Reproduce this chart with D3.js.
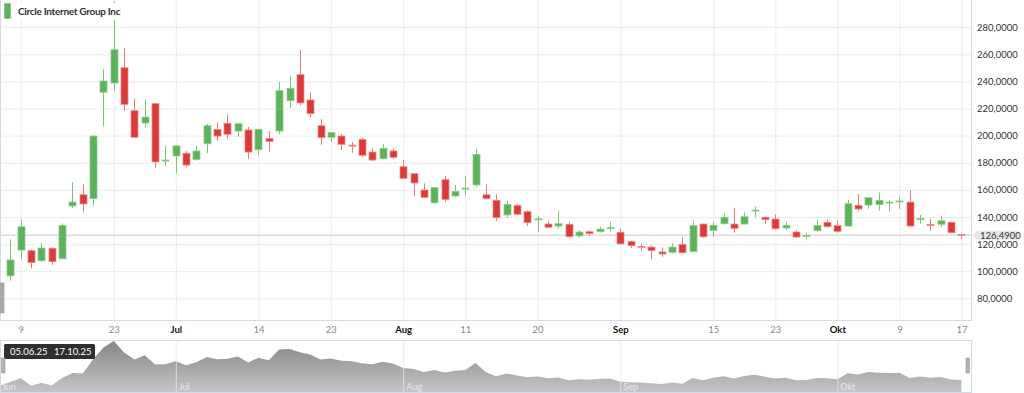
<!DOCTYPE html>
<html>
<head>
<meta charset="utf-8">
<script src="https://cdn.jsdelivr.net/npm/d3@7"></script>
<style>
  body { margin: 0; background: #fff; font-family: Lato, sans-serif; }
  .grid line { stroke: #ececec; }
  .grid path { display: none; }
</style>
</head>
<body>
<script>
"use strict"

// series name shown in the legend
const title = "Circle Internet Group Inc"

// trading days (Jun 5 only peeks in at the left edge)
const dates = [
  "2025-06-05", "2025-06-06", "2025-06-09", "2025-06-10", "2025-06-11", "2025-06-12", "2025-06-13",
  "2025-06-16", "2025-06-17", "2025-06-18", "2025-06-20", "2025-06-23", "2025-06-24", "2025-06-25",
  "2025-06-26", "2025-06-27", "2025-06-30", "2025-07-01", "2025-07-02", "2025-07-03", "2025-07-07",
  "2025-07-08", "2025-07-09", "2025-07-10", "2025-07-11", "2025-07-14", "2025-07-15", "2025-07-16",
  "2025-07-17", "2025-07-18", "2025-07-21", "2025-07-22", "2025-07-23", "2025-07-24", "2025-07-25",
  "2025-07-28", "2025-07-29", "2025-07-30", "2025-07-31", "2025-08-01", "2025-08-04", "2025-08-05",
  "2025-08-06", "2025-08-07", "2025-08-08", "2025-08-11", "2025-08-12", "2025-08-13", "2025-08-14",
  "2025-08-15", "2025-08-18", "2025-08-19", "2025-08-20", "2025-08-21", "2025-08-22", "2025-08-25",
  "2025-08-26", "2025-08-27", "2025-08-28", "2025-08-29", "2025-09-02", "2025-09-03", "2025-09-04",
  "2025-09-05", "2025-09-08", "2025-09-09", "2025-09-10", "2025-09-11", "2025-09-12", "2025-09-15",
  "2025-09-16", "2025-09-17", "2025-09-18", "2025-09-19", "2025-09-22", "2025-09-23", "2025-09-24",
  "2025-09-25", "2025-09-26", "2025-09-29", "2025-09-30", "2025-10-01", "2025-10-02", "2025-10-03",
  "2025-10-06", "2025-10-07", "2025-10-08", "2025-10-09", "2025-10-10", "2025-10-13", "2025-10-14",
  "2025-10-15", "2025-10-16", "2025-10-17",
]

const open = [
  69.2, 96.5, 115.6, 115.1, 107.7, 116.9, 109.2,
  148.1, 156.4, 153.5, 232, 238.8, 250.1, 218.4,
  209.3, 223.6, 181.5, 185, 187, 182.5, 194,
  204.6, 209.1, 203.4, 204.2, 189.6, 198, 203.4,
  225.8, 245, 226.3, 207.3, 198.8, 199.7, 193,
  197.2, 187.9, 183, 188.7, 177.1, 171.9, 159.9,
  150.5, 167.5, 155.5, 160.8, 163.6, 156.4, 152.3,
  141.5, 148.6, 143.9, 138, 134.8, 133.3, 134.6,
  126, 129.1, 129.1, 131.6, 128.7, 122, 118.3,
  117.8, 114.2, 113.9, 119.8, 114.4, 134.8, 130.2,
  135, 134.8, 134.8, 144.6, 139.8, 138.5, 131.9,
  128.9, 126, 129.9, 136.1, 133.6, 133.3, 148.6,
  148.8, 149.1, 150.6, 151.4, 151, 138.3, 134.4,
  134.6, 136.1, 127,
]

const high = [
  91.3, 123.5, 138.5, 116, 120.6, 117.6, 135.3,
  165.6, 164.5, 200.5, 249.2, 299, 264.7, 227.3,
  226.8, 224, 192.4, 193, 188.7, 192.4, 208.6,
  209.8, 215.7, 209.3, 206.6, 205, 203.4, 239.6,
  244, 263.2, 232, 212.3, 202.5, 201.2, 195.5,
  198.5, 190.9, 193.8, 190.4, 182, 172, 164.8,
  162, 170.4, 163.6, 169.7, 190.1, 164.3, 156.7,
  152, 149.5, 144.9, 141, 137.2, 144.6, 136.1,
  130.2, 130.2, 132.8, 136.3, 131.6, 122.5, 120.6,
  119.1, 117.6, 120.6, 125.2, 136.8, 135.2, 136.1,
  142.7, 146.8, 143.4, 147.6, 140.3, 142, 136.3,
  130.2, 128.5, 137.5, 138, 137.5, 152.7, 157,
  154.5, 157.9, 152.5, 154.5, 159.9, 141.5, 138.7,
  141, 136.5, 127.7,
]

const low = [
  69.2, 93, 108.8, 102.1, 107, 104.6, 108.7,
  146.4, 143.4, 148.3, 206.6, 233, 218.2, 198.3,
  206.1, 176.1, 177.8, 172.2, 176.6, 181.5, 187,
  196.3, 197.7, 199.2, 182.8, 185.7, 188.2, 201.2,
  220.2, 222.4, 213.7, 193.1, 195.5, 189.4, 187.4,
  184, 181.1, 182.5, 183, 168, 155, 154,
  149.6, 151.3, 154.5, 155.7, 161.9, 153, 137,
  139.5, 141.5, 133.3, 129.1, 132, 131.4, 125,
  124.7, 126, 128.5, 129.4, 119.8, 116.9, 115.1,
  108.8, 110.5, 113.2, 113.3, 114, 124.7, 125.4,
  134.5, 128.4, 134.5, 139.8, 134.8, 130.6, 130.4,
  124.7, 123.5, 129.1, 132.2, 128.5, 132.8, 144.2,
  145.9, 144.4, 144.2, 145.7, 133, 135, 129.9,
  132.8, 128, 124,
]

const close = [
  91.3, 108.3, 132.8, 106.3, 117.1, 107, 133.6,
  151, 149.6, 199.7, 240.3, 263.4, 223.1, 198.8,
  213.7, 180.6, 182, 192.4, 178.3, 188.7, 207.3,
  199.7, 201, 208.8, 187.9, 204.7, 195.8, 233.2,
  234.9, 224.1, 216.2, 198.5, 202.2, 193.6, 192.4,
  185.5, 182, 190.7, 184, 168.5, 165.1, 154.5,
  161.6, 153, 158.9, 161.3, 186.2, 153.5, 139.5,
  149.3, 142, 135.8, 138.6, 132.4, 135, 125.4,
  128.9, 127.7, 131.1, 132.1, 120.1, 118.8, 117.9,
  115.1, 112.7, 117.8, 113.6, 133.6, 125.4, 133.9,
  139.8, 131.6, 140.2, 145.1, 138, 131.3, 133.9,
  125.2, 126.4, 133.6, 132.8, 129.4, 149.8, 145.9,
  154.2, 152.3, 151, 151.8, 133.3, 138.8, 133.9,
  137.2, 128.4, 126.49,
]

const lastPrice = 126.49

// axis ticks
const yTicks      = [80, 100, 120, 140, 160, 180, 200, 220, 240, 260, 280]
const xTicks      = ["2025-06-09", "2025-06-23", "2025-07-01", "2025-07-14", "2025-07-23", "2025-08-01", "2025-08-11",
                     "2025-08-20", "2025-09-02", "2025-09-15", "2025-09-23", "2025-10-01", "2025-10-09", "2025-10-17"]
const xTickLabels = ["9", "23", "Jul", "14", "23", "Aug", "11", "20", "Sep", "15", "23", "Okt", "9", "17"]
const monthTicks  = ["Jul", "Aug", "Sep", "Okt"]

// navigator
const navTicks      = ["2025-06-05", "2025-07-01", "2025-08-01", "2025-09-02", "2025-10-01"]
const navTickLabels = ["Jun", "Jul", "Aug", "Sep", "Okt"]
const rangeLabels   = ["05.06.25", "17.10.25"]

// layout
const W = 1024, H = 393
const plot = { left : 0, right : 972, top : 0, bottom : 320.5 }
const nav  = { top : 340.5, bottom : 392.5 }
const step = 10.337

const candles = dates.map((d, i) => ({ d, o : open[i], h : high[i], l : low[i], c : close[i], i }))

const de = d3.formatLocale({ decimal : ",", thousands : ".", grouping : [3], currency : ["", " €"] })
const fmt = de.format(".4f")

const x = d3.scalePoint().domain(dates).range([0.07, 0.07 + step * (dates.length - 1)])
const y = d3.scaleLinear().domain([80, 280]).range([298.3, 27.2])

const svg = d3.select("body").append("svg")
  .attr("width", W)
  .attr("height", H)
  .style("display", "block")

svg.append("clipPath").attr("id", "plotClip")
  .append("rect")
  .attr("x", plot.left).attr("y", plot.top)
  .attr("width", plot.right - plot.left).attr("height", plot.bottom - plot.top)

// grid
svg.append("g").attr("class", "grid")
  .attr("transform", `translate(0,${plot.bottom})`)
  .call(d3.axisBottom(x).tickValues(xTicks).tickSize(-(plot.bottom - plot.top)).tickFormat(""))

svg.append("g").attr("class", "grid")
  .attr("transform", `translate(${plot.left},0)`)
  .call(d3.axisLeft(y).tickValues(yTicks).tickSize(-(plot.right - plot.left)).tickFormat(""))

// plot borders
svg.append("line").attr("x1", 0.5).attr("x2", 0.5).attr("y1", 0).attr("y2", plot.bottom).attr("stroke", "#d5dae6")
svg.append("line").attr("x1", plot.right - 0.5).attr("x2", plot.right - 0.5).attr("y1", 0).attr("y2", plot.bottom).attr("stroke", "#d5dae6")
svg.append("line").attr("x1", 0).attr("x2", plot.right).attr("y1", plot.bottom).attr("y2", plot.bottom).attr("stroke", "#d5dae6")

// last price line
svg.append("line")
  .attr("x1", plot.left).attr("x2", plot.right)
  .attr("y1", y(lastPrice)).attr("y2", y(lastPrice))
  .attr("stroke", "#dcdcdc").attr("stroke-width", 1.5)

// candles
const up   = { body : "#5fb25c", edge : "#8fcb8c", wick : "#7fc27c" }
const down = { body : "#db3a3a", edge : "#ea8a8a", wick : "#e58080" }
const gray = { body : "#a8a8a8", edge : "#a8a8a8", wick : "#a8a8a8" }
const look = c => c.i === 0 ? gray : (c.c >= c.o ? up : down)
const bw = 7

const g = svg.append("g").attr("clip-path", "url(#plotClip)")

const candle = g.selectAll(".candle")
  .data(candles)
  .enter()
  .append("g").attr("class", "candle")

candle.append("line")
  .attr("x1", c => Math.round(x(c.d)) + 0.5)
  .attr("x2", c => Math.round(x(c.d)) + 0.5)
  .attr("y1", c => y(c.h))
  .attr("y2", c => y(c.l))
  .attr("stroke", c => look(c).wick)
  .attr("stroke-width", 1)

candle.append("rect")
  .attr("x", c => Math.round(x(c.d)) - bw / 2 + 0.5)
  .attr("y", c => Math.min(y(c.o), y(c.c)))
  .attr("width", bw)
  .attr("height", c => Math.max(1, Math.abs(y(c.o) - y(c.c))))
  .attr("fill", c => look(c).body)
  .attr("stroke", c => look(c).edge)
  .attr("stroke-width", 0.8)

// legend
const legend = svg.append("g")
legend.append("rect").attr("x", 1).attr("y", 3).attr("width", 121).attr("height", 17).attr("fill", "#fff")
legend.append("rect").attr("x", 4.5).attr("y", 3.5).attr("width", 6).attr("height", 15)
  .attr("fill", up.body).attr("stroke", up.edge)
legend.append("text")
  .attr("x", 18).attr("y", 15)
  .attr("font-size", 10).attr("font-weight", 700).attr("fill", "#333")
  .attr("letter-spacing", -0.3)
  .text(title)

// y axis labels
const yAxis = svg.append("g")
  .attr("transform", `translate(${plot.right},0)`)
  .call(d3.axisRight(y).tickValues(yTicks).tickSize(0).tickPadding(5).tickFormat(fmt))
yAxis.select(".domain").remove()
yAxis.selectAll("text").attr("font-family", "Lato").attr("font-size", 9.5).attr("fill", "#333")

// last price tag
const ty = y(lastPrice)
svg.append("path")
  .attr("d", `M${plot.right + 1},${ty} L${plot.right + 5},${ty - 4.5} L${plot.right + 47},${ty - 4.5} L${plot.right + 47},${ty + 4.5} L${plot.right + 5},${ty + 4.5} Z`)
  .attr("fill", "#e6e6e6")
svg.append("text")
  .attr("x", plot.right + 8).attr("y", ty).attr("dy", "0.34em")
  .attr("font-size", 9.5).attr("fill", "#333")
  .text(fmt(lastPrice))

// x axis labels
const xAxis = svg.append("g")
  .attr("transform", `translate(0,${plot.bottom})`)
  .call(d3.axisBottom(x).tickValues(xTicks).tickSize(0).tickPadding(6).tickFormat((d, i) => xTickLabels[i]))
xAxis.select(".domain").remove()
xAxis.selectAll("text")
  .attr("font-family", "Lato")
  .attr("font-size", 9.5)
  .attr("fill", (d, i) => monthTicks.includes(xTickLabels[i]) ? "#111" : "#8a8a8a")
  .attr("font-weight", (d, i) => monthTicks.includes(xTickLabels[i]) ? 700 : 400)

// navigator (skips the half-hidden first day)
const navData = candles.slice(1)
const navY = d3.scaleLinear()
  .domain([82.5, d3.max(close)])
  .range([nav.bottom, nav.top + 0.5])

const grad = svg.append("defs").append("linearGradient")
  .attr("id", "navFill").attr("gradientUnits", "userSpaceOnUse")
  .attr("x1", 0).attr("x2", 0).attr("y1", nav.top).attr("y2", nav.bottom)
grad.append("stop").attr("offset", 0).attr("stop-color", "#858585")
grad.append("stop").attr("offset", 1).attr("stop-color", "#c6c6c6")

svg.append("path")
  .datum(navData)
  .attr("d", d3.area().x((c, i) => i === 0 ? 1 : x(c.d)).y0(nav.bottom).y1(c => navY(c.c)))
  .attr("fill", "url(#navFill)")

const navAxis = svg.append("g")
  .attr("transform", `translate(0,${nav.bottom})`)
  .call(d3.axisBottom(x).tickValues(navTicks.slice(1)).tickSize(-(nav.bottom - nav.top)).tickFormat(""))
navAxis.select(".domain").remove()
navAxis.selectAll("line").attr("stroke", "#e6e6e6").attr("stroke-opacity", 0.8)

svg.append("g")
  .selectAll("text")
  .data(navTicks)
  .enter()
  .append("text")
  .attr("x", (d, i) => i === 0 ? 2 : x(d) + 3)
  .attr("y", nav.bottom - 3)
  .attr("font-size", 9).attr("fill", "#e8e8e8")
  .text((d, i) => navTickLabels[i])

svg.append("rect")
  .attr("x", 0.5).attr("y", nav.top)
  .attr("width", plot.right - 1).attr("height", nav.bottom - nav.top)
  .attr("fill", "none").attr("stroke", "#d5dae6")

// range labels
svg.append("rect").attr("x", 4).attr("y", 344).attr("width", 91).attr("height", 15).attr("rx", 1.5).attr("fill", "#2f2f2f")
svg.append("g").selectAll("text")
  .data(rangeLabels)
  .enter()
  .append("text")
  .attr("x", (d, i) => 10 + i * 44)
  .attr("y", 355)
  .attr("font-size", 9.5).attr("fill", "#fff")
  .text(d => d)

// navigator handles
;[1.5, plot.right - 6].forEach(hx => {
  svg.append("rect").attr("x", hx).attr("y", 358).attr("width", 3.5).attr("height", 15)
    .attr("fill", "#b3b3b3").attr("stroke", "#999").attr("stroke-width", 0.6)
})
</script>
</body>
</html>
